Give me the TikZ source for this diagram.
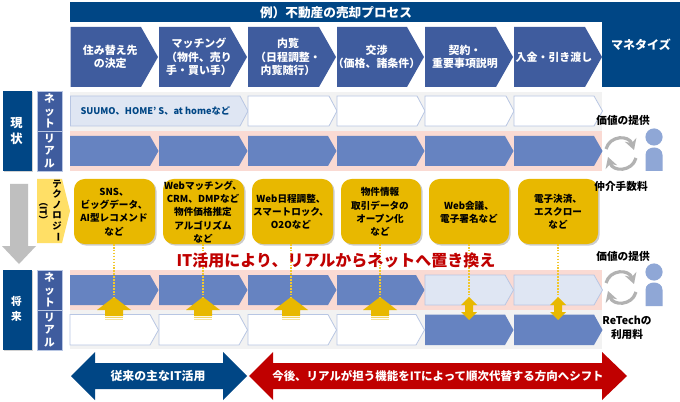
\documentclass[tikz,border=0pt]{standalone}
\usepackage{fontspec}
\usepackage{graphicx}
\setmainfont{Noto Sans CJK JP}
\usetikzlibrary{shadows,arrows.meta}
\definecolor{navy}{HTML}{004685}
\definecolor{hdr}{HTML}{3F5C9E}
\definecolor{midb}{HTML}{6683C1}
\definecolor{lightb}{HTML}{DFE6F3}
\definecolor{edgeb}{HTML}{B8C6E3}
\definecolor{pinkbg}{HTML}{FADAD3}
\definecolor{graybg}{HTML}{F2F2F2}
\definecolor{gold}{HTML}{E8B800}
\definecolor{dotgold}{HTML}{F2C82E}
\definecolor{pale}{HTML}{FFDF66}
\definecolor{redd}{HTML}{C00000}
\definecolor{person}{HTML}{8FA7D6}
\newcommand\fsz[2]{\fontsize{#1}{#2}\selectfont\bfseries}
% name, x1, x2, y1, y2, tip, style, text options, text
\newcommand\chev[9]{%
  \path[#7] (#2,#4) -- (#3-#6,#4) -- (#3,{(#4+#5)/2}) -- (#3-#6,#5) -- (#2,#5) -- cycle;
  \node[txt,#8] (#1) at ({(#2+#3)/2-4},{(#4+#5)/2}) {#9};}
\newcommand\uparr[2]{%
  \fill[gold] (#1,297) -- (#1+17,310) -- (#1+9,310) -- (#1+9,316) -- (#1-9,316) -- (#1-9,310) -- (#1-17,310) -- cycle;
  \fill[gold!60] (#1-9,316.8) rectangle (#1+9,318);
  \fill[gold!40] (#1-9,318.8) rectangle (#1+9,320);
  \coordinate (#2) at (#1,297);}
\newcommand\dblarr[2]{%
  \fill[gold] (#1,297) -- (#1+8,305) -- (#1+4,305) -- (#1+4,312) -- (#1+8,312) -- (#1,320) -- (#1-8,312) -- (#1-4,312) -- (#1-4,305) -- (#1-8,305) -- cycle;
  \coordinate (#2) at (#1,297);}
\newcommand\cycl[2]{%
  \draw[cyc] (#1-15,#2-4) .. controls (#1-11,#2-18) and (#1+8,#2-18) .. (#1+13,#2-3);
  \draw[cyc] (#1+15,#2+5) .. controls (#1+11,#2+19) and (#1-8,#2+19) .. (#1-13,#2+4);}
\newcommand\persn[2]{%
  \fill[person] (#1,#2) circle (8.6);
  \fill[person] (#1-8.5,#2+34) -- (#1-8.5,#2+18) .. controls (#1-8.5,#2+8) and (#1+8.5,#2+8) .. (#1+8.5,#2+18) -- (#1+8.5,#2+34) -- cycle;}
\tikzset{
  txt/.style={inner sep=0pt,align=center,font=\fsz{8.2}{10.2},text=white},
  hchev/.style={fill=hdr},
  rchev/.style={fill=midb},
  wchev/.style={fill=white,draw=edgeb,line width=.6pt},
  lchev/.style={fill=lightb,draw=edgeb,line width=.6pt},
  lab/.style={fill=hdr,draw=edgeb,line width=.3pt,drop shadow={shadow xshift=1pt,shadow yshift=-1pt,opacity=.35}},
  side/.style={fill=navy,drop shadow={shadow xshift=1pt,shadow yshift=-1pt,opacity=.35}},
  ybox/.style={fill=gold,draw=none,rounded corners=8pt,drop shadow={shadow xshift=1.2pt,shadow yshift=-1.2pt,opacity=.4}},
  ytxt/.style={inner sep=0pt,align=center,font=\fsz{7.2}{9.9},text=black},
  dots/.style={draw=dotgold,line width=1pt,dash pattern=on 1.2pt off 1pt},
  cyc/.style={draw=black!30,line width=2.4pt,-{Stealth[length=8pt,width=9pt]}},
  note/.style={inner sep=0pt,align=center,font=\fsz{8}{10.5},text=black},
  stack/.style={inner sep=0pt,align=center,font=\fsz{8}{9.2},text=white},
}
\begin{document}
\begin{tikzpicture}[x=0.75pt,y=-0.75pt]
\useasboundingbox (0,0) rectangle (680,402);
\fill[white] (0,0) rectangle (680,402);
% top
\fill[navy] (70,2) rectangle (680,22);
\node[txt,font=\fsz{9.5}{11}] (title) at (336,13) {例）不動産の売却プロセス};
\fill[navy] (602,22) rectangle (680,87);
\node[txt,font=\fsz{9}{11}] (mon) at (641,45) {マネタイズ};
% headers
\chev{h1}{70.5}{158}{27}{87}{17}{hchev}{}{住み替え先\\の決定}
\chev{h2}{159}{247}{27}{87}{17}{hchev}{}{マッチング\\（物件、売り\\手・買い手）}
\chev{h3}{248}{336}{27}{87}{17}{hchev}{}{内覧\\（日程調整・\\内覧随行）}
\chev{h4}{337}{424}{27}{87}{17}{hchev}{}{交渉\\（価格、諸条件）}
\chev{h5}{425}{513}{27}{87}{17}{hchev}{}{契約・\\重要事項説明}
\chev{h6}{514}{602}{27}{87}{17}{hchev}{}{入金・引き渡し}
% current rows
\fill[graybg] (70,92) rectangle (602,131);
\fill[pinkbg] (70,131) rectangle (602,171);
\chev{c1}{70.5}{248}{96}{126}{8}{lchev}{text=navy,font=\fsz{6.9}{9}}{SUUMO、HOME’ S、at homeなど}
\path[wchev] (248,96) -- (329,96) -- (337,111) -- (329,126) -- (248,126) -- cycle;
\path[wchev] (337,96) -- (417,96) -- (425,111) -- (417,126) -- (337,126) -- cycle;
\path[wchev] (425,96) -- (506,96) -- (514,111) -- (506,126) -- (425,126) -- cycle;
\path[wchev] (514,96) -- (594,96) -- (602.5,111) -- (594,126) -- (514,126) -- cycle;
\path[rchev] (70,136) -- (150,136) -- (158.5,151) -- (150,166) -- (70,166) -- cycle;
\path[rchev] (159,136) -- (239,136) -- (247.5,151) -- (239,166) -- (159,166) -- cycle;
\path[rchev] (248,136) -- (328,136) -- (336.5,151) -- (328,166) -- (248,166) -- cycle;
\path[rchev] (337,136) -- (416,136) -- (424.5,151) -- (416,166) -- (337,166) -- cycle;
\path[rchev] (425,136) -- (505,136) -- (513.5,151) -- (505,166) -- (425,166) -- cycle;
\path[rchev] (514,136) -- (594,136) -- (602.5,151) -- (594,166) -- (514,166) -- cycle;
% left labels
\path[side] (3,91) rectangle (32,171);
\node[txt,font=\fsz{9.2}{12.5}] (now) at (16.5,131) {現\\状};
\path[lab] (37,91) rectangle (62,131);
\node[stack] (n1) at (49.5,111) {ネ\\ッ\\ト};
\path[lab] (37,131) rectangle (62,171);
\node[stack] (r1) at (49.5,151) {リ\\ア\\ル};
% down arrow
\fill[black!25] (10,184) -- (28,184) -- (28,246) -- (36,246) -- (19,264) -- (2,246) -- (10,246) -- cycle;
% technology
\fill[pale] (37,179) -- (62,179) -- (70,211) -- (62,243) -- (37,243) -- cycle;
\node[inner sep=0pt,align=center,font=\fsz{7}{7.9},text=black] (tech) at (57,211) {テ\\ク\\ノ\\ロ\\ジ\\\rotatebox[origin=c]{-90}{ー}};
\node[inner sep=0pt,rotate=-90,font=\fsz{7}{9},text=black] (it) at (43.5,211) {（IT）};
% boxes
\path[ybox] (74,179) rectangle (155,244);
\path[ybox] (163,179) rectangle (244,244);
\path[ybox] (252,179) rectangle (333,244);
\path[ybox] (341,179) rectangle (421,244);
\path[ybox] (429,179) rectangle (509,244);
\path[ybox] (518,179) rectangle (598,244);
\node[ytxt] (y1) at (114,212) {SNS、\\ビッグデータ、\\AI型レコメンド\\など};
\node[ytxt] (y2) at (203,212) {Webマッチング、\\CRM、DMPなど\\物件価格推定\\アルゴリズム\\など};
\node[ytxt] (y3) at (291,212) {Web日程調整、\\スマートロック、\\O2Oなど};
\node[ytxt] (y4) at (380,212) {物件情報\\取引データの\\オープン化\\など};
\node[ytxt] (y5) at (469,212) {Web会議、\\電子署名など};
\node[ytxt] (y6) at (558,212) {電子決済、\\エスクロー\\など};
\coordinate (b1) at (114,244);\coordinate (b2) at (203,244);\coordinate (b3) at (291,244);
\coordinate (b4) at (380,244);\coordinate (b5) at (469,244);\coordinate (b6) at (558,244);
% future rows
\fill[pinkbg] (70,270) rectangle (602,310);
\fill[graybg] (70,310) rectangle (602,349);
\path[rchev] (70,275) -- (150,275) -- (158.5,290) -- (150,305) -- (70,305) -- cycle;
\path[rchev] (159,275) -- (239,275) -- (247.5,290) -- (239,305) -- (159,305) -- cycle;
\path[rchev] (248,275) -- (328,275) -- (336.5,290) -- (328,305) -- (248,305) -- cycle;
\path[rchev] (337,275) -- (416,275) -- (424.5,290) -- (416,305) -- (337,305) -- cycle;
\path[lchev] (425,275) -- (505,275) -- (513.5,290) -- (505,305) -- (425,305) -- cycle;
\path[lchev] (514,275) -- (594,275) -- (602.5,290) -- (594,305) -- (514,305) -- cycle;
\path[wchev] (70,314.5) -- (150,314.5) -- (158.5,330) -- (150,345) -- (70,345) -- cycle;
\path[wchev] (159,314.5) -- (239,314.5) -- (247.5,330) -- (239,345) -- (159,345) -- cycle;
\path[wchev] (248,314.5) -- (328,314.5) -- (336.5,330) -- (328,345) -- (248,345) -- cycle;
\path[wchev] (337,314.5) -- (416,314.5) -- (424.5,330) -- (416,345) -- (337,345) -- cycle;
\path[rchev] (425,314.5) -- (505,314.5) -- (513.5,330) -- (505,345) -- (425,345) -- cycle;
\path[rchev] (514,314.5) -- (594,314.5) -- (602.5,330) -- (594,345) -- (514,345) -- cycle;
\path[side] (3,270) rectangle (32,350);
\node[txt,font=\fsz{8}{11.5}] (fut) at (16.5,309) {将\\来};
\path[lab] (37,270) rectangle (62,310);
\node[stack] (n2) at (49.5,290) {ネ\\ッ\\ト};
\path[lab] (37,310) rectangle (62,350);
\node[stack] (r2) at (49.5,330) {リ\\ア\\ル};
% arrows
\uparr{114}{a1}\uparr{203}{a2}\uparr{291}{a3}\uparr{380}{a4}\dblarr{469}{a5}\dblarr{558}{a6}
\draw[dots] (b1) -- (a1);\draw[dots] (b2) -- (a2);\draw[dots] (b3) -- (a3);
\draw[dots] (b4) -- (a4);\draw[dots] (b5) -- (a5);\draw[dots] (b6) -- (a6);
\node[inner sep=0pt,font=\fsz{12}{14},text=redd] (shift) at (336,260) {IT活用により、リアルからネットへ置き換え};
% bottom arrows
\fill[navy] (71,376) -- (95,352) -- (95,363) -- (223,363) -- (223,352) -- (247,376) -- (223,400) -- (223,389) -- (95,389) -- (95,400) -- cycle;
\node[txt,font=\fsz{8.9}{11}] (old) at (158,376) {従来の主なIT活用};
\fill[redd] (249,376) -- (273,352) -- (273,363) -- (602,363) -- (602,352) -- (627,376) -- (602,400) -- (602,389) -- (273,389) -- (273,400) -- cycle;
\node[txt,font=\fsz{8.6}{11}] (new) at (438,376) {今後、リアルが担う機能をITによって順次代替する方向へシフト};
% monetise side
\node[note] (v1) at (623,120.5) {価値の提供};
\node[note] (f1) at (621,186) {仲介手数料};
\cycl{621}{153}
\persn{654}{137}
\node[note] (v2) at (623,256) {価値の提供};
\cycl{621}{287}
\persn{654}{272}
\node[note] (rt) at (627,328) {ReTechの\\利用料};
\end{tikzpicture}
\end{document}
